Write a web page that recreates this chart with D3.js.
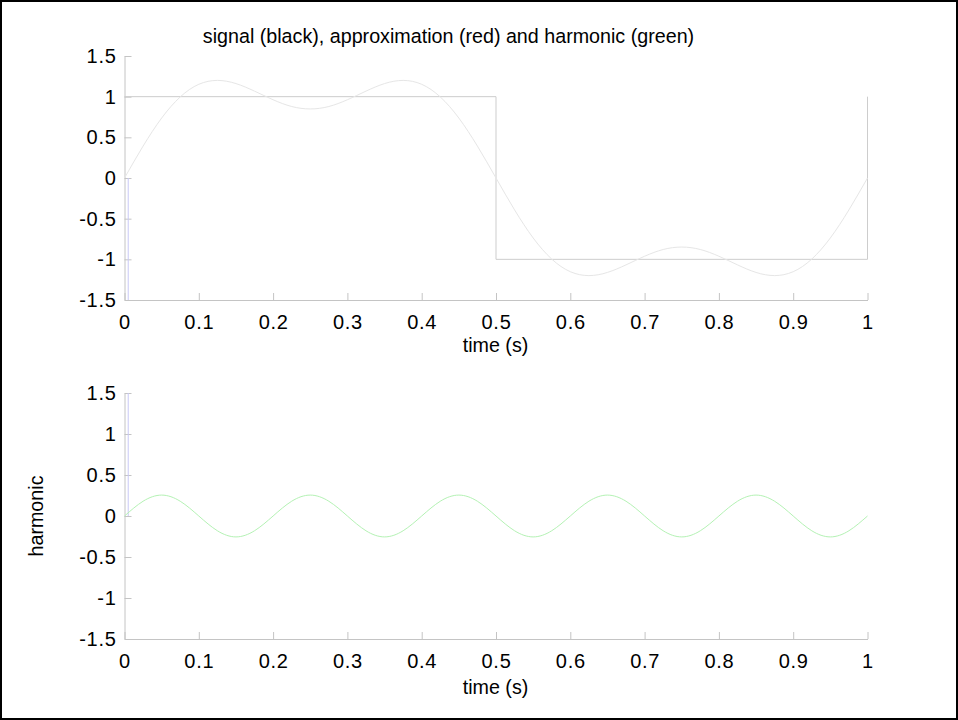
<!DOCTYPE html>
<html>
<head>
<meta charset="utf-8">
<script src="https://cdn.jsdelivr.net/npm/d3@7"></script>
<style>
  html, body { margin: 0; padding: 0; background: #fff; }
  svg { display: block; }
  text { font-family: "Liberation Sans", Arial, Helvetica, sans-serif; fill: #000; }
</style>
</head>
<body>
<script>
// Sample times (s), step 0.025
const times = d3.range(41).map(i => +(i * 0.025).toFixed(3));

// Square-wave signal: breakpoints
const signalT = [0, 0.5, 0.5, 1, 1];
const signalY = [1, 1, -1, -1, 1];

// Approximation (fundamental + 3rd harmonic) sampled at `times`
const approxY = [
  0, 0.392, 0.737, 0.997, 1.152, 1.200, 1.161, 1.068, 0.962, 0.879,
  0.849, 0.879, 0.962, 1.068, 1.161, 1.200, 1.152, 0.997, 0.737, 0.392,
  0, -0.392, -0.737, -0.997, -1.152, -1.200, -1.161, -1.068, -0.962, -0.879,
  -0.849, -0.879, -0.962, -1.068, -1.161, -1.200, -1.152, -0.997, -0.737, -0.392,
  0
];

// 5th harmonic sampled at `times`
const harmonicY = [
  0, 0.180, 0.255, 0.180, 0, -0.180, -0.255, -0.180,
  0, 0.180, 0.255, 0.180, 0, -0.180, -0.255, -0.180,
  0, 0.180, 0.255, 0.180, 0, -0.180, -0.255, -0.180,
  0, 0.180, 0.255, 0.180, 0, -0.180, -0.255, -0.180,
  0, 0.180, 0.255, 0.180, 0, -0.180, -0.255, -0.180,
  0
];

// Short marker stems near t = 0
const markerT = 0.005;
const markerTopY = [0, -1.5];
const markerBottomY = [0, 1.5];

// Axis ticks
const xTicks = [0, 0.1, 0.2, 0.3, 0.4, 0.5, 0.6, 0.7, 0.8, 0.9, 1];
const yTicks = [-1.5, -1, -0.5, 0, 0.5, 1, 1.5];

const W = 958, H = 720;
const svg = d3.select("body").append("svg").attr("width", W).attr("height", H);

// Figure frame
svg.append("rect").attr("x", 1).attr("y", 1).attr("width", W - 2).attr("height", H - 2)
  .attr("fill", "#fff").attr("stroke", "#000").attr("stroke-width", 2);

const axisColor = "#c4c4c4";
const tickFont = 20;
const labelFont = 19.7;

function fmt(v) { return String(v); }

function styleTicks(sel) {
  sel.selectAll(".tick text").attr("font-size", tickFont)
    .attr("letter-spacing", "0.7px")
    .attr("font-family", '"Liberation Sans", Arial, sans-serif').attr("fill", "#000");
}

function panel(top, bottom, labelGap) {
  const x = d3.scaleLinear().domain([0, 1]).range([124.5, 867.5]);
  const y = d3.scaleLinear().domain([-1.5, 1.5]).range([bottom, top]);
  const g = svg.append("g");

  // Left axis
  const ya = d3.axisLeft(y).tickValues(yTicks).tickFormat(fmt).tickSizeInner(-7).tickSizeOuter(0).tickPadding(8);
  const yg = g.append("g").attr("transform", `translate(${x(0)},0)`).call(ya);
  yg.select(".domain").attr("stroke", axisColor);
  yg.selectAll(".tick line").attr("stroke", axisColor);
  styleTicks(yg);

  // Bottom axis
  const xa = d3.axisBottom(x).tickValues(xTicks).tickFormat(fmt).tickSizeInner(-7).tickSizeOuter(0).tickPadding(15);
  const xg = g.append("g").attr("transform", `translate(0,${y(-1.5)})`).call(xa);
  xg.select(".domain").attr("stroke", axisColor);
  xg.selectAll(".tick line").attr("stroke", axisColor);
  styleTicks(xg);

  g.append("text").attr("x", (x(0) + x(1)) / 2 - 0.5).attr("y", bottom + labelGap)
    .attr("text-anchor", "middle").attr("font-size", labelFont).text("time (s)");

  return { g, x, y };
}

// Upper panel: signal + approximation
const p1 = panel(56, 300, 52);
const line1 = d3.line().x(d => p1.x(d[0])).y(d => p1.y(d[1]));

p1.g.append("path")
  .datum(markerTopY.map(v => [markerT, v]))
  .attr("d", line1).attr("fill", "none").attr("stroke", "#c8c8f6").attr("stroke-width", 1);

p1.g.append("path")
  .datum(signalT.map((t, i) => [t, signalY[i]]))
  .attr("d", line1).attr("fill", "none").attr("stroke", "#cdcdcd").attr("stroke-width", 1);

p1.g.append("path")
  .datum(times.map((t, i) => [t, approxY[i]]))
  .attr("d", line1.curve(d3.curveNatural)).attr("fill", "none")
  .attr("stroke", "#e6e6e6").attr("stroke-width", 1);

svg.append("text").attr("x", 448.5).attr("y", 43).attr("text-anchor", "middle")
  .attr("font-size", labelFont).text("signal (black), approximation (red) and harmonic (green)");

// Lower panel: harmonic
const p2 = panel(393, 639, 55);
const line2 = d3.line().x(d => p2.x(d[0])).y(d => p2.y(d[1]));

p2.g.append("path")
  .datum(markerBottomY.map(v => [markerT, v]))
  .attr("d", line2).attr("fill", "none").attr("stroke", "#c8c8f6").attr("stroke-width", 1);

p2.g.append("path")
  .datum(times.map((t, i) => [t, harmonicY[i]]))
  .attr("d", line2.curve(d3.curveNatural)).attr("fill", "none")
  .attr("stroke", "#b4f2b4").attr("stroke-width", 1);

svg.append("text")
  .attr("transform", `translate(43,516) rotate(-90)`)
  .attr("text-anchor", "middle").attr("font-size", labelFont).text("harmonic");
</script>
</body>
</html>
